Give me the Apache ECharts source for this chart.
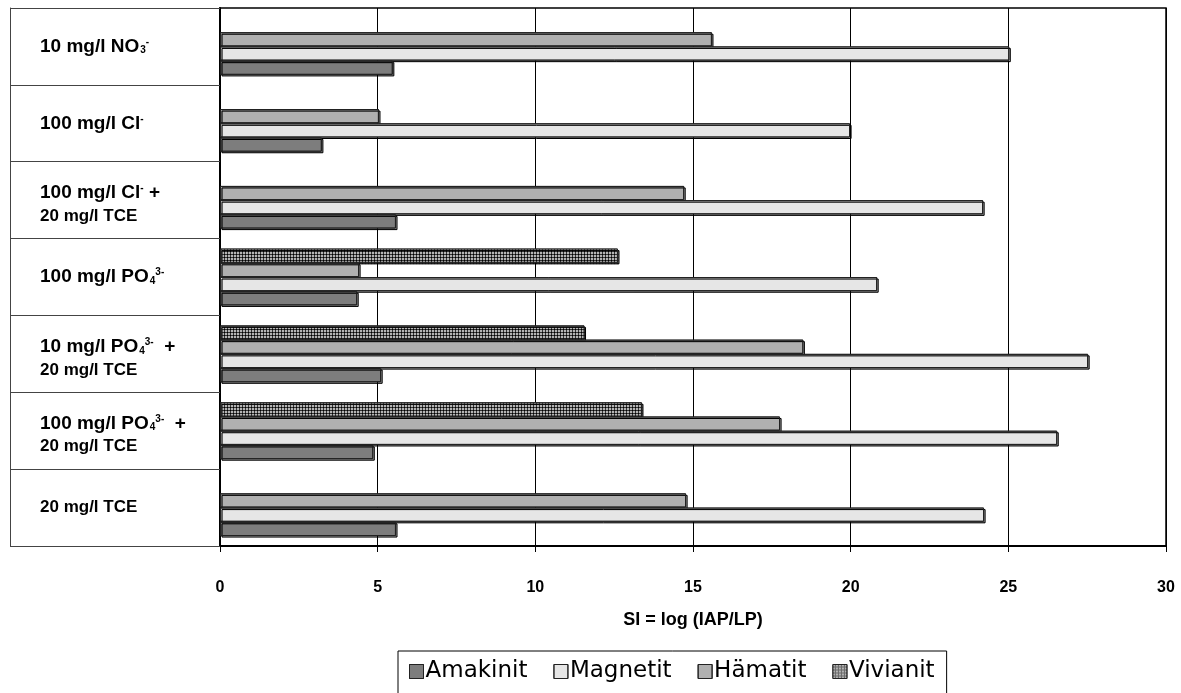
<!DOCTYPE html>
<html>
<head>
<meta charset="utf-8">
<script src="https://cdn.jsdelivr.net/npm/echarts@6/dist/echarts.min.js"></script>
<style>html,body{margin:0;padding:0;background:#fff}#c{width:1181px;height:693px}</style>
</head>
<body>
<div id="c"></div>
<script>
// Categories (top to bottom), rich-text keys used for sub/superscripts
const categories = ['NO3', 'Cl', 'ClTCE', 'PO4', 'PO4_10TCE', 'PO4_100TCE', 'TCE'];
const categoryLabels = {
  NO3: '{m|10 mg/l NO}{sub|3}{sup|-}',
  Cl: '{m|100 mg/l Cl}{sup|-}',
  ClTCE: '{m2|100 mg/l Cl}{sup2|-}{m2| +}\n{s2|20 mg/l TCE}',
  PO4: '{m|100 mg/l PO}{sub|4}{sup|3-}',
  PO4_10TCE: '{m2|10 mg/l PO}{sub2|4}{sup2|3-}{m2|  +}\n{s2|20 mg/l TCE}',
  PO4_100TCE: '{m2|100 mg/l PO}{sub2|4}{sup2|3-}{m2|  +}\n{s2|20 mg/l TCE}',
  TCE: '{s|20 mg/l TCE}'
};
const seriesNames = ['Amakinit', 'Magnetit', 'Hämatit', 'Vivianit'];
const amakinit = [5.48, 3.23, 5.58, 4.35, 5.11, 4.86, 5.58];
const magnetit = [25.03, 19.98, 24.2, 20.84, 27.53, 26.55, 24.23];
const haematit = [15.6, 5.04, 14.72, 4.41, 18.5, 17.76, 14.78];
const vivianit = [null, null, null, 12.62, 11.56, 13.38, null];
const xTicks = { min: 0, max: 30, interval: 5 };

const colors = { Amakinit: '#7d7d7d', Magnetit: '#e6e6e6', 'Hämatit': '#b0b0b0', Vivianit: '#6a6a6a' };
const decals = {
  Amakinit: { symbol: 'none' },
  Magnetit: { symbol: 'none' },
  'Hämatit': { symbol: 'none' },
  Vivianit: { symbol: 'rect', symbolSize: 1, color: '#b4b4b4', dashArrayX: [2, 1], dashArrayY: [2, 1], rotation: 0 }
};
const values = { Amakinit: amakinit, Magnetit: magnetit, 'Hämatit': haematit, Vivianit: vivianit };

const chart = echarts.init(document.getElementById('c'), null, { renderer: 'canvas' });
const font = '"Liberation Sans", Arial, Helvetica, sans-serif';
const legendFont = '"DejaVu Sans", Verdana, sans-serif';

// series drawn top-to-bottom within each band: Vivianit, Hämatit, Magnetit, Amakinit
const drawOrder = seriesNames.slice().reverse();
const series = drawOrder.map(name => ({
  name: name,
  type: 'bar',
  yAxisIndex: 0,
  data: values[name],
  barGap: '0%',
  barCategoryGap: '26%',
  itemStyle: {
    color: colors[name],
    decal: decals[name],
    borderColor: '#222',
    borderWidth: 1,
    shadowColor: 'rgba(0,0,0,0.25)',
    shadowOffsetX: 1.5,
    shadowOffsetY: 1.5,
    shadowBlur: 0
  },
  emphasis: { disabled: true }
}));

const main = { fontFamily: font, fontSize: 19, fontWeight: 'bold', color: '#000' };
const second = { fontFamily: font, fontSize: 17, fontWeight: 'bold', color: '#000' };
const small = { fontFamily: font, fontSize: 10, fontWeight: 'bold', color: '#000' };

chart.setOption({
  animation: false,
  backgroundColor: '#fff',
  aria: { enabled: true, label: { enabled: false }, decal: { show: true } },
  grid: { left: 220, right: 15, top: 8, bottom: 147, show: true, borderColor: '#000', borderWidth: 1.5, containLabel: false },
  legend: {
    data: seriesNames,
    left: 398,
    top: 651,
    padding: [9, 12, 40, 11],
    borderColor: '#000',
    borderWidth: 1,
    itemWidth: 14,
    itemHeight: 14,
    itemGap: 26,
    icon: 'rect',
    itemStyle: { borderColor: '#222', borderWidth: 1, shadowBlur: 0, shadowOffsetX: 0, shadowOffsetY: 0 },
    textStyle: { fontFamily: legendFont, fontSize: 23, color: '#000', padding: [0, 0, 0, -3] }
  },
  xAxis: {
    type: 'value',
    min: xTicks.min,
    max: xTicks.max,
    interval: xTicks.interval,
    name: 'SI = log (IAP/LP)',
    nameLocation: 'middle',
    nameGap: 65,
    nameTextStyle: { fontFamily: font, fontSize: 18, fontWeight: 'bold', color: '#000' },
    axisLine: { show: true, lineStyle: { color: '#000', width: 2 } },
    axisTick: { show: true, length: 6, lineStyle: { color: '#000', width: 1 } },
    axisLabel: { fontFamily: font, fontSize: 16, fontWeight: 'bold', color: '#000', margin: 34 },
    splitLine: { show: true, lineStyle: { color: '#000', width: 1 } }
  },
  yAxis: [
    {
      type: 'category',
      data: categories,
      inverse: true,
      axisLine: { show: true, lineStyle: { color: '#000', width: 2 } },
      axisTick: { show: true, length: 210, interval: 0, lineStyle: { color: '#444', width: 1 } },
      axisLabel: {
        interval: 0,
        align: 'left',
        margin: 180,
        formatter: v => categoryLabels[v],
        rich: {
          m: Object.assign({ lineHeight: 24 }, main),
          s: Object.assign({ lineHeight: 24 }, second),
          sub: Object.assign({ lineHeight: 24, padding: [8, 0, 0, 1] }, small),
          sup: Object.assign({ lineHeight: 24, padding: [0, 0, 9, 0] }, small),
          m2: Object.assign({ lineHeight: 32 }, main),
          sub2: Object.assign({ lineHeight: 32, padding: [8, 0, 0, 1] }, small),
          sup2: Object.assign({ lineHeight: 32, padding: [0, 0, 9, 0] }, small),
          s2: Object.assign({ lineHeight: 14 }, second)
        }
      },
      splitLine: { show: false }
    },
    {
      type: 'category',
      data: categories,
      inverse: true,
      position: 'left',
      offset: 210,
      axisLine: { show: true, lineStyle: { color: '#444', width: 1 } },
      axisTick: { show: false },
      axisLabel: { show: false },
      splitLine: { show: false }
    }
  ],
  series: series
});
</script>
</body>
</html>
